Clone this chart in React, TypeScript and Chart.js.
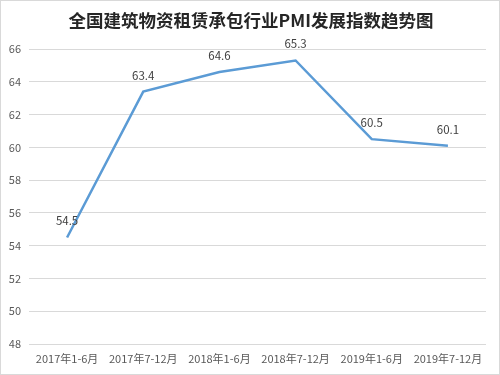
import React, { useEffect, useRef } from "react";
import { Chart, registerables } from "chart.js";

Chart.register(...registerables);

const categories = ["2017年1-6月", "2017年7-12月", "2018年1-6月", "2018年7-12月", "2019年1-6月", "2019年7-12月"];
const pmiValues = [54.5, 63.4, 64.6, 65.3, 60.5, 60.1];
const titleText = "全国建筑物资租赁承包行业PMI发展指数趋势图";
const yMin = 48;
const yMax = 66;
const yStep = 2;

const FONT = "'Noto Sans CJK SC', 'Noto Sans', sans-serif";

export default function App() {
  const ref = useRef<HTMLCanvasElement | null>(null);

  useEffect(() => {
    document.body.style.margin = "0";
    const canvas = ref.current;
    if (!canvas) return;

    const decorPlugin = {
      id: "decor",
      afterDraw(chart: any) {
        const ctx = chart.ctx;
        ctx.save();
        ctx.strokeStyle = "#d9d9d9";
        ctx.lineWidth = 1;
        ctx.strokeRect(0.5, 0.5, chart.width - 1, chart.height - 1);
        ctx.font = `bold 17.5px ${FONT}`;
        ctx.fillStyle = "#262626";
        ctx.textAlign = "center";
        ctx.textBaseline = "middle";
        ctx.fillText(titleText, 251, 20);
        ctx.restore();
      },
    };

    const labelPlugin = {
      id: "pointLabels",
      afterDatasetsDraw(chart: any) {
        const ctx = chart.ctx;
        const meta = chart.getDatasetMeta(0);
        ctx.save();
        ctx.font = `11.5px ${FONT}`;
        ctx.fillStyle = "#404040";
        ctx.textAlign = "center";
        ctx.textBaseline = "alphabetic";
        meta.data.forEach((pt: any, i: number) => {
          ctx.fillText(pmiValues[i].toFixed(1), pt.x, pt.y - 12);
        });
        ctx.restore();
      },
    };

    const chart = new Chart(canvas, {
      type: "line",
      data: {
        labels: categories,
        datasets: [
          {
            data: pmiValues,
            borderColor: "#5B9BD5",
            borderWidth: 2.5,
            pointRadius: 0,
            pointHoverRadius: 0,
            fill: false,
            tension: 0,
          },
        ],
      },
      options: {
        animation: false,
        responsive: false,
        maintainAspectRatio: false,
        layout: { padding: { left: 0, right: 14, top: 49, bottom: 0 } },
        plugins: {
          legend: { display: false },
          title: { display: false },
          tooltip: { enabled: false },
        },
        scales: {
          x: {
            offset: true,
            grid: { display: false, drawTicks: false },
            border: { display: false },
            ticks: {
              padding: 8,
              color: "#595959",
              font: { family: FONT, size: 11 },
              maxRotation: 0,
              autoSkip: false,
            },
            afterFit(s: any) {
              s.height = 31;
            },
          },
          y: {
            min: yMin,
            max: yMax,
            grid: { color: "#d9d9d9", drawTicks: false, lineWidth: 1 },
            border: { display: false },
            ticks: {
              stepSize: yStep,
              padding: 8,
              color: "#595959",
              font: { family: FONT, size: 11 },
            },
            afterFit(s: any) {
              s.width = 29;
            },
          },
        },
      },
      plugins: [decorPlugin, labelPlugin],
    });

    return () => chart.destroy();
  }, []);

  return (
    <div style={{ position: "fixed", left: 0, top: 0, width: 500, height: 375, background: "#fff" }}>
      <canvas ref={ref} width={500} height={375} style={{ display: "block" }} />
    </div>
  );
}
